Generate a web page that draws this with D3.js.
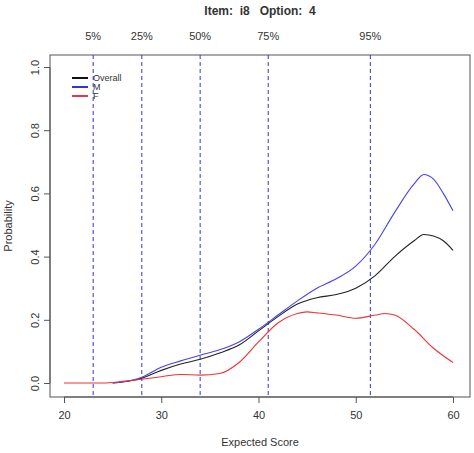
<!DOCTYPE html>
<html><head><meta charset="utf-8">
<script src="https://cdn.jsdelivr.net/npm/d3@7"></script>
<style>body{margin:0;background:#fff}text{font-family:"Liberation Sans",Arial,sans-serif;fill:#333}</style>
</head><body><svg id="c" width="474" height="453"></svg>
<script>
const overallX = [25,26,28,30,32,34,36,38,40,42,44,46,48,50,52,54,56,57,58,59,60];
const overallY = [0,0.003,0.015,0.04,0.06,0.075,0.095,0.12,0.165,0.21,0.25,0.27,0.28,0.3,0.34,0.4,0.45,0.47,0.465,0.45,0.42];
const mX = [25,26,28,30,32,34,36,38,40,42,44,46,48,50,52,54,56,57,58,59,60];
const mY = [0,0.003,0.018,0.05,0.07,0.088,0.105,0.13,0.17,0.215,0.26,0.3,0.33,0.37,0.44,0.54,0.63,0.66,0.645,0.6,0.545];
const fX = [20,24,26,28,30,32,34,36,38,40,42,44,45,46,48,50,52,53,54,56,58,60];
const fY = [0,0,0.005,0.012,0.02,0.027,0.025,0.03,0.065,0.13,0.19,0.22,0.225,0.222,0.215,0.205,0.215,0.22,0.215,0.17,0.11,0.065];
const quantLabels = ["5%","25%","50%","75%","95%"];
const quantX = [23,28,34,41,51.5];
const xTicks = [20,30,40,50,60];
const yTicks = [0,0.2,0.4,0.6,0.8,1.0];

const svg = d3.select("#c");
const x = d3.scaleLinear().domain([20,60]).range([64,453]);
const y = d3.scaleLinear().domain([0,1]).range([383,67]);
const L = 50, R = 470, T = 55, B = 397;

svg.append("rect").attr("x",L).attr("y",T).attr("width",R-L).attr("height",B-T)
  .attr("fill","none").attr("stroke","#555");

svg.append("g").attr("transform",`translate(0,${B})`)
  .call(d3.axisBottom(x).tickValues(xTicks).tickSize(6).tickPadding(8))
  .call(g=>{g.select(".domain").attr("d",`M${x(20)},0H${x(60)}`).attr("stroke","#555");
    g.selectAll("line").attr("stroke","#555");g.selectAll("text").style("font-size","11px");});
svg.append("g").attr("transform",`translate(${L},0)`)
  .call(d3.axisLeft(y).tickValues(yTicks).tickFormat(d3.format(".1f")).tickSize(6).tickPadding(4))
  .call(g=>{g.select(".domain").attr("d",`M0,${y(0)}V${y(1)}`).attr("stroke","#555");
    g.selectAll("line").attr("stroke","#555");
    g.selectAll("text").style("font-size","11px").attr("text-anchor","middle")
      .attr("transform",d=>`translate(-15,${0}) rotate(-90,0,${0})`).attr("x",0).attr("dy","0.35em");});

svg.append("g").selectAll("line").data(quantX).join("line")
  .attr("x1",d=>x(d)).attr("x2",d=>x(d)).attr("y1",T).attr("y2",B)
  .attr("stroke","#3333dd").attr("stroke-dasharray","4,3");
svg.append("g").selectAll("text").data(quantX).join("text")
  .attr("x",d=>x(d)).attr("y",40).attr("text-anchor","middle").style("font-size","11px")
  .text((d,i)=>quantLabels[i]);

const line = d3.line().curve(d3.curveMonotoneX);
const series = [[overallX,overallY,"#222"],[mX,mY,"#4444ee"],[fX,fY,"#ee3333"]];
svg.append("g").selectAll("path").data(series).join("path")
  .attr("d",s=>line(s[0].map((v,i)=>[x(v),y(s[1][i])])))
  .attr("fill","none").attr("stroke",s=>s[2]).attr("stroke-width",1.1);

const leg = [["Overall","#111"],["M","#3333dd"],["F","#ee3344"]];
const lg = svg.append("g").selectAll("g").data(leg).join("g")
  .attr("transform",(d,i)=>`translate(72,${78+i*9})`);
lg.append("line").attr("x1",0).attr("x2",16).attr("stroke",d=>d[1]).attr("stroke-width",2);
lg.append("text").attr("x",21).attr("dy","0.35em").style("font-size","9px").text(d=>d[0]);

svg.append("text").attr("x",260).attr("y",15).attr("text-anchor","middle")
  .style("font-size","12px").style("font-weight","bold").attr("xml:space","preserve").text("Item:  i8   Option:  4");
svg.append("text").attr("x",260).attr("y",446).attr("text-anchor","middle").style("font-size","11px").text("Expected Score");
svg.append("text").attr("transform","translate(12,226) rotate(-90)").attr("text-anchor","middle").style("font-size","11px").text("Probability");
</script></body></html>
